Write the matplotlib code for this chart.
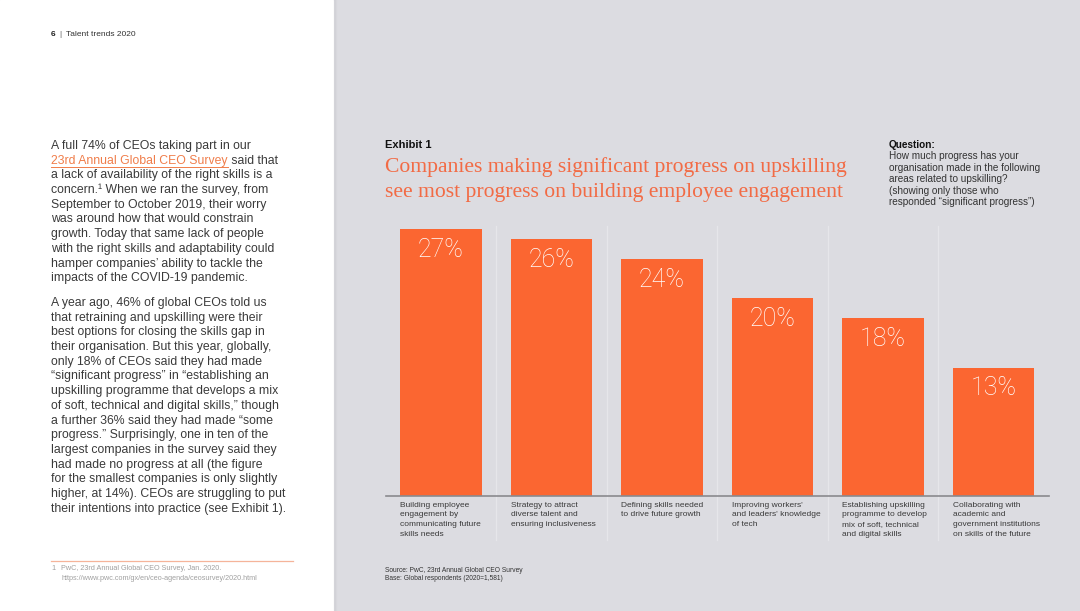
import matplotlib.pyplot as plt
from matplotlib.patches import Rectangle

plt.rcParams['font.family'] = ['Liberation Sans', 'DejaVu Sans']

# data
categories = [
    "Building employee\nengagement by\ncommunicating future\nskills needs",
    "Strategy to attract\ndiverse talent and\nensuring inclusiveness",
    "Defining skills needed\nto drive future growth",
    "Improving workers'\nand leaders' knowledge\nof tech",
    "Establishing upskilling\nprogramme to develop\nmix of soft, technical\nand digital skills",
    "Collaborating with\nacademic and\ngovernment institutions\non skills of the future",
]
values = [27, 26, 24, 20, 18, 13]

para1 = [
    "A full 74% of CEOs taking part in our",
    None,  # line with the survey link
    "a lack of availability of the right skills is a",
    "concern.\u00b9 When we ran the survey, from",
    "September to October 2019, their worry",
    "was around how that would constrain",
    "growth. Today that same lack of people",
    "with the right skills and adaptability could",
    "hamper companies\u2019 ability to tackle the",
    "impacts of the COVID-19 pandemic.",
]
para2 = [
    "A year ago, 46% of global CEOs told us",
    "that retraining and upskilling were their",
    "best options for closing the skills gap in",
    "their organisation. But this year, globally,",
    "only 18% of CEOs said they had made",
    "\u201csignificant progress\u201d in \u201cestablishing an",
    "upskilling programme that develops a mix",
    "of soft, technical and digital skills,\u201d though",
    "a further 36% said they had made \u201csome",
    "progress.\u201d Surprisingly, one in ten of the",
    "largest companies in the survey said they",
    "had made no progress at all (the figure",
    "for the smallest companies is only slightly",
    "higher, at 14%). CEOs are struggling to put",
    "their intentions into practice (see Exhibit 1).",
]
question = ("How much progress has your\norganisation made in the following\n"
            "areas related to upskilling?\n(showing only those who\n"
            "responded \u201csignificant progress\u201d)")

ORANGE = '#fb6631'
GRAY_BG = '#dcdce1'
TXT = '#3a3a3a'

fig = plt.figure(figsize=(10.8, 6.11), dpi=100)
fig.patch.set_facecolor(GRAY_BG)

# page background, pixel coordinates
bg = fig.add_axes([0, 0, 1, 1])
bg.set_xlim(0, 1080)
bg.set_ylim(611, 0)
bg.axis('off')
bg.add_patch(Rectangle((0, 0), 333, 611, color='white', zorder=0))
for k, a in enumerate([0.18, 0.1, 0.05]):
    bg.plot([334 + k, 334 + k], [0, 611], color='#a0a0a8', alpha=a, lw=1)

# left page text
bg.text(51, 34, "6", fontsize=6, fontweight='bold', color='#222', va='center')
bg.text(59.5, 34, "|", fontsize=6, color='#555', va='center')
bg.text(66, 34, "Talent trends 2020", fontsize=6, color='#333', va='center')

y0, dy = 146, 14.7
fs = 8.8
for i, line in enumerate(para1):
    if line is None:
        continue
    bg.text(51, y0 + i * dy, line, fontsize=fs, color=TXT, va='center')

fig.canvas.draw()
r = fig.canvas.get_renderer()
link = bg.text(51, y0 + dy, "23rd Annual Global CEO Survey", fontsize=fs,
               color='#f07d4a', va='center')
bb = link.get_window_extent(renderer=r).transformed(bg.transData.inverted())
bg.text(bb.x1, y0 + dy, " said that", fontsize=fs, color=TXT, va='center')
bg.plot([51, bb.x1], [y0 + dy + 6, y0 + dy + 6], color='#f07d4a', lw=0.7)

y1 = 303
for i, line in enumerate(para2):
    bg.text(51, y1 + i * dy, line, fontsize=fs, color=TXT, va='center')

bg.plot([51, 293], [561, 561], color='#f5b49a', lw=0.9)
bg.text(51, 569, "1", fontsize=5.2, color='#a0a0a0', va='center')
bg.text(61, 569, "PwC, 23rd Annual Global CEO Survey, Jan. 2020.", fontsize=5.2,
        color='#a0a0a0', va='center')
bg.text(61, 578, "https://www.pwc.com/gx/en/ceo-agenda/ceosurvey/2020.html",
        fontsize=5.2, color='#a0a0a0', va='center')

# exhibit header
bg.text(385, 145, "Exhibit 1", fontsize=8, fontweight='bold', color='#111', va='center')
bg.text(385, 167, "Companies making significant progress on upskilling",
        fontsize=15.6, family='Liberation Serif', color='#f26b45', va='center')
bg.text(385, 192, "see most progress on building employee engagement",
        fontsize=15.6, family='Liberation Serif', color='#f26b45', va='center')
bg.text(889, 145, "Question:", fontsize=7.2, fontweight='bold', color='#111', va='center')
bg.text(889, 151, question, fontsize=7.2, color='#333', va='top', linespacing=1.2)

bg.text(385, 571, "Source: PwC, 23rd Annual Global CEO Survey", fontsize=4.8,
        color='#333', va='center')
bg.text(385, 579, "Base: Global respondents (2020=1,581)", fontsize=4.8,
        color='#333', va='center')

# bar chart
ax = fig.add_axes([385.75 / 1080, (611 - 496) / 611, 663 / 1080, 296.4 / 611])
ax.set_facecolor('none')
x = range(len(values))
ax.bar(x, values, width=0.742, color=ORANGE, zorder=2)
ax.set_xlim(-0.5, len(values) - 0.5)
ax.set_ylim(0, 30)
for s in ['top', 'right', 'left']:
    ax.spines[s].set_visible(False)
ax.spines['bottom'].set_color('#8a8a8e')
ax.spines['bottom'].set_linewidth(1.2)
ax.set_xticks([])
ax.set_yticks([])

for i in range(len(values) - 1):
    ax.axvline(i + 0.5, ymin=-0.15, ymax=0.91, color='#e6e6ea', lw=1,
               clip_on=False, zorder=1)

for i, v in enumerate(values):
    ax.annotate(f"{v}%", (i, v), xytext=(0, -15), textcoords='offset points',
                ha='center', va='center', color='white', fontsize=18,
                family=['Roboto', 'Liberation Sans'], fontweight='light')
    ax.annotate(categories[i], (i - 0.371, 0), xytext=(0, -4),
                textcoords='offset points', ha='left', va='top', fontsize=6,
                color='#3a3a3a', linespacing=1.58, annotation_clip=False)

fig.savefig('out.png', dpi=100, facecolor=fig.get_facecolor())
